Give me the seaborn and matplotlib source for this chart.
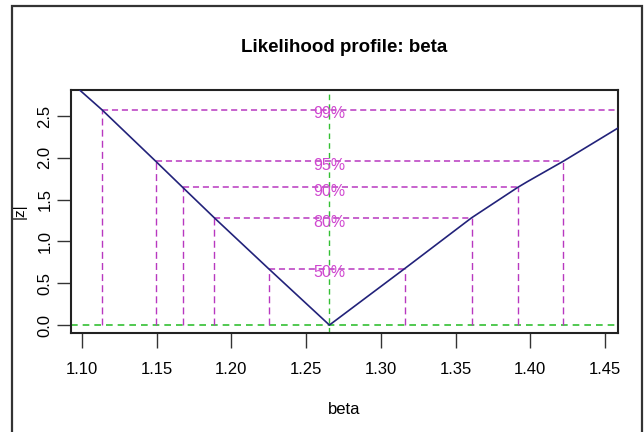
import matplotlib
matplotlib.use("Agg")
import matplotlib.pyplot as plt
import matplotlib.patches as mpatches
import seaborn as sns
import pandas as pd

# Profile trace of |z| against beta
beta_vals = [1.0985, 1.1133, 1.1493, 1.1675, 1.1886, 1.2249, 1.2656,
             1.3159, 1.3607, 1.3915, 1.3980, 1.4222, 1.4587]
z_vals = [2.810, 2.576, 1.960, 1.645, 1.282, 0.674, 0.000,
          0.674, 1.282, 1.645, 1.714, 1.960, 2.356]

# Confidence levels, their |z| cut-offs and the interval ends
levels = ["50%", "80%", "90%", "95%", "99%"]
z_cut = [0.674, 1.282, 1.645, 1.960, 2.576]
lower = [1.2249, 1.1886, 1.1675, 1.1493, 1.1133]
upper = [1.3159, 1.3607, 1.3915, 1.4222, None]
beta_hat = 1.2656

x_ticks = [1.10, 1.15, 1.20, 1.25, 1.30, 1.35, 1.40, 1.45]
y_ticks = [0.0, 0.5, 1.0, 1.5, 2.0, 2.5]

sns.set_style("white")
plt.rcParams["font.family"] = ["Liberation Sans", "DejaVu Sans"]
plt.rcParams["text.color"] = "black"
plt.rcParams["axes.labelcolor"] = "black"
plt.rcParams["xtick.color"] = "black"
plt.rcParams["ytick.color"] = "black"

fig = plt.figure(figsize=(6.44, 4.32), dpi=100)
ax = fig.add_axes([0.1096, 0.229, 0.8500, 0.5627])

xlim = (1.0924, 1.4587)
ylim = (-0.096, 2.811)

magenta = "#b838c0"
green = "#33c033"

df = pd.DataFrame({"beta": beta_vals, "z": z_vals})

# Reference lines at the estimate and at zero
ax.axvline(beta_hat, color=green, lw=1.0, ls=(0, (4, 3)), zorder=1)
ax.axhline(0, color=green, lw=1.2, ls=(0, (4, 3)), zorder=1)

# Interval cut-off segments
for lab, zc, lo, hi in zip(levels, z_cut, lower, upper):
    right = hi if hi is not None else xlim[1]
    ax.plot([lo, right], [zc, zc], color=magenta, lw=1.1, ls=(0, (4, 2.5)), zorder=2)
    ax.plot([lo, lo], [0, zc], color=magenta, lw=1.0, ls=(0, (5, 3)), zorder=2)
    if hi is not None:
        ax.plot([hi, hi], [0, zc], color=magenta, lw=1.0, ls=(0, (5, 3)), zorder=2)
    ax.text(beta_hat, zc - 0.05, lab, color="#d048d0", fontsize=11.5,
            ha="center", va="center", zorder=3)

sns.lineplot(data=df, x="beta", y="z", ax=ax, color="#22227a", lw=1.2,
             sort=False, estimator=None, zorder=4)

ax.set_xlim(*xlim)
ax.set_ylim(*ylim)
ax.set_xticks(x_ticks)
ax.set_xticklabels([f"{t:.2f}" for t in x_ticks], fontsize=12)
ax.set_yticks(y_ticks)
ax.set_yticklabels([f"{t:.1f}" for t in y_ticks], fontsize=12, rotation=90,
                   va="center")
ax.tick_params(axis="x", length=11, width=1, color="#333333", pad=10, direction="out")
ax.tick_params(axis="y", length=10, width=1, color="#333333", pad=3, direction="out")
ax.tick_params(bottom=True, left=True)
for s in ax.spines.values():
    s.set_color("#222222")
    s.set_linewidth(1.5)

ax.set_xlabel("beta", fontsize=12, labelpad=18)
ax.set_ylabel("|z|", fontsize=11, labelpad=8)
ax.set_title("Likelihood profile: beta", fontsize=13.5, fontweight="bold", pad=27)

# Outer frame of the device region
frame = mpatches.Rectangle((12 / 644, -0.05), (642 - 12) / 644, (432 - 5.5) / 432 + 0.05,
                           transform=fig.transFigure, fill=False,
                           edgecolor="#333333", lw=1.6)
fig.patches.append(frame)

fig.savefig("out.png", dpi=100)
